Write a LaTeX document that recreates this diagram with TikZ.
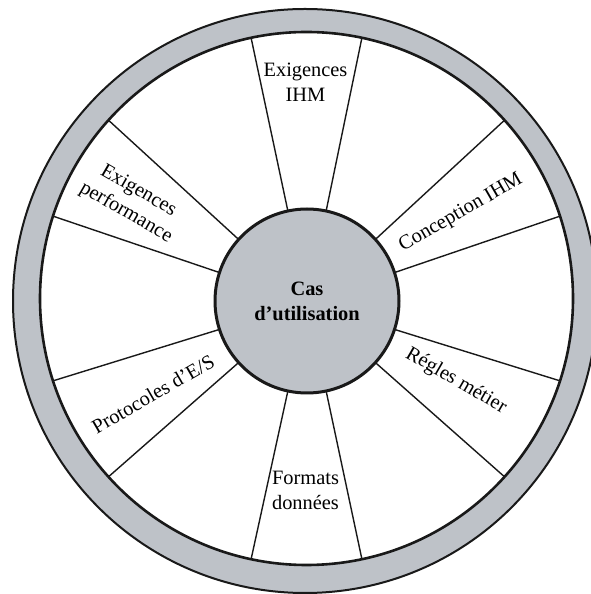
\documentclass[tikz,border=0pt]{standalone}
\usepackage{fontspec}
\setmainfont{Liberation Serif}
\definecolor{wheelgray}{RGB}{190,194,200}
\begin{document}
\begin{tikzpicture}[x=1pt,y=1pt,
  lbl/.style={font=\fontsize{20.4}{25}\selectfont, align=center, inner sep=0pt},
  spoke/.style={line width=1.4pt, black!90},
  ringline/.style={circle, draw=black!90, inner sep=0pt, outer sep=0pt}]
\useasboundingbox (0,0) rectangle (591,594);
\clip (0,0) rectangle (591,594);
\node[ringline, line width=2pt, fill=wheelgray, minimum size=584pt] (outer) at (305,293) {};
\node[ringline, line width=2.6pt, fill=white, minimum size=533pt] (inner) at (306.5,295.5) {};
\node[ringline, line width=3pt, fill=wheelgray, minimum size=184pt, align=center,
      font=\fontsize{20.4}{25}\selectfont\bfseries] (hub) at (307,293) {Cas\\d’utilisation};
\foreach \a in {18,42,78,102,138,162,198,222,258,282,318,342}
  \draw[spoke] (hub.\a) -- (inner.\a);
\node[lbl] (exihm) at (305.5,512) {Exigences\\IHM};
\node[lbl, rotate=30] (concihm) at (461,381) {Conception IHM};
\node[lbl, rotate=-30] (regles) at (456,213) {Régles métier};
\node[lbl] (formats) at (305.5,104) {Formats\\données};
\node[lbl, rotate=30] (protos) at (153,200) {Protocoles d’E/S};
\node[lbl, rotate=-30] (experf) at (132,392) {Exigences\\performance};
\end{tikzpicture}
\end{document}
